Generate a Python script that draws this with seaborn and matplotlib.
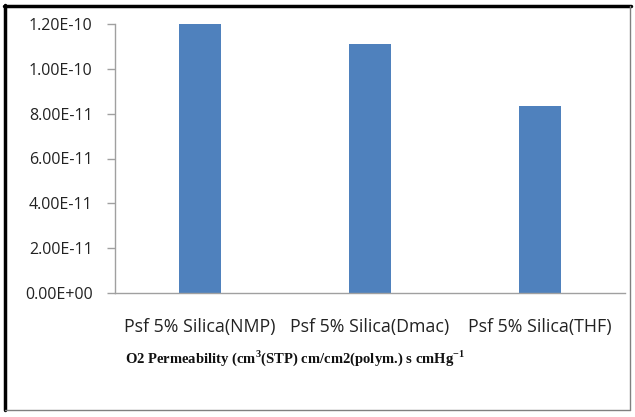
import matplotlib
matplotlib.use("Agg")
import matplotlib.pyplot as plt
from matplotlib.lines import Line2D
import seaborn as sns
import pandas as pd

categories = ["Psf 5% Silica(NMP)", "Psf 5% Silica(Dmac)", "Psf 5% Silica(THF)"]
permeability = [1.20e-10, 1.11e-10, 8.34e-11]
y_ticks = [0.0, 2e-11, 4e-11, 6e-11, 8e-11, 1.0e-10, 1.2e-10]
y_tick_labels = ["0.00E+00", "2.00E-11", "4.00E-11", "6.00E-11", "8.00E-11", "1.00E-10", "1.20E-10"]
x_title = r"O2 Permeability (cm$^\mathbf{3}$(STP) cm/cm2(polym.) s cmHg$^\mathbf{-1}$"

df = pd.DataFrame({"sample": categories, "value": permeability})

sns.set_style("white")
plt.rcParams["font.family"] = ["Open Sans", "DejaVu Sans"]
plt.rcParams["mathtext.fontset"] = "custom"
plt.rcParams["mathtext.bf"] = "Liberation Serif:bold"
plt.rcParams["mathtext.rm"] = "Liberation Serif"

fig = plt.figure(figsize=(6.35, 4.17), dpi=100)
ax = fig.add_axes([115 / 635, 1 - 293 / 417, (625 - 115) / 635, (293 - 24) / 417])

sns.barplot(data=df, x="sample", y="value", color="#4f81bd", width=0.25,
            saturation=1, ax=ax, edgecolor="none")

ax.set_ylim(0, 1.2e-10)
ax.set_xlim(-0.5, 2.5)
ax.set_yticks(y_ticks)
ax.set_yticklabels(y_tick_labels)

for side in ["top", "right"]:
    ax.spines[side].set_visible(False)
for side in ["left", "bottom"]:
    ax.spines[side].set_color("#a0a0a0")
    ax.spines[side].set_linewidth(1.0)

ax.tick_params(axis="y", direction="out", length=6, width=1, color="#a0a0a0",
               labelsize=11.5, labelcolor="#222222", pad=10, left=True)
ax.tick_params(axis="x", length=0, labelsize=12.8, labelcolor="#222222", pad=18)
ax.set_ylabel("")
ax.set_xlabel(x_title, fontfamily="Liberation Serif", fontweight="bold",
              fontsize=10.5, color="#111111")
ax.xaxis.set_label_coords((125 - 115) / (625 - 115), -65 / 269)
ax.xaxis.label.set_horizontalalignment("left")
ax.xaxis.label.set_verticalalignment("center")

# outer frame: heavy black top/left, thin grey right/bottom
fig.add_artist(Line2D([5 / 635, 5 / 635], [1 - 5 / 417, 1 - 410 / 417],
                      transform=fig.transFigure, color="black", lw=2.5))
fig.add_artist(Line2D([4 / 635, 631 / 635], [1 - 6 / 417, 1 - 6 / 417],
                      transform=fig.transFigure, color="black", lw=2.5))
fig.add_artist(Line2D([630 / 635, 630 / 635], [1 - 6 / 417, 1 - 410 / 417],
                      transform=fig.transFigure, color="#808080", lw=1))
fig.add_artist(Line2D([5 / 635, 630 / 635], [1 - 410 / 417, 1 - 410 / 417],
                      transform=fig.transFigure, color="#808080", lw=1))

fig.savefig("out.png", dpi=100)
